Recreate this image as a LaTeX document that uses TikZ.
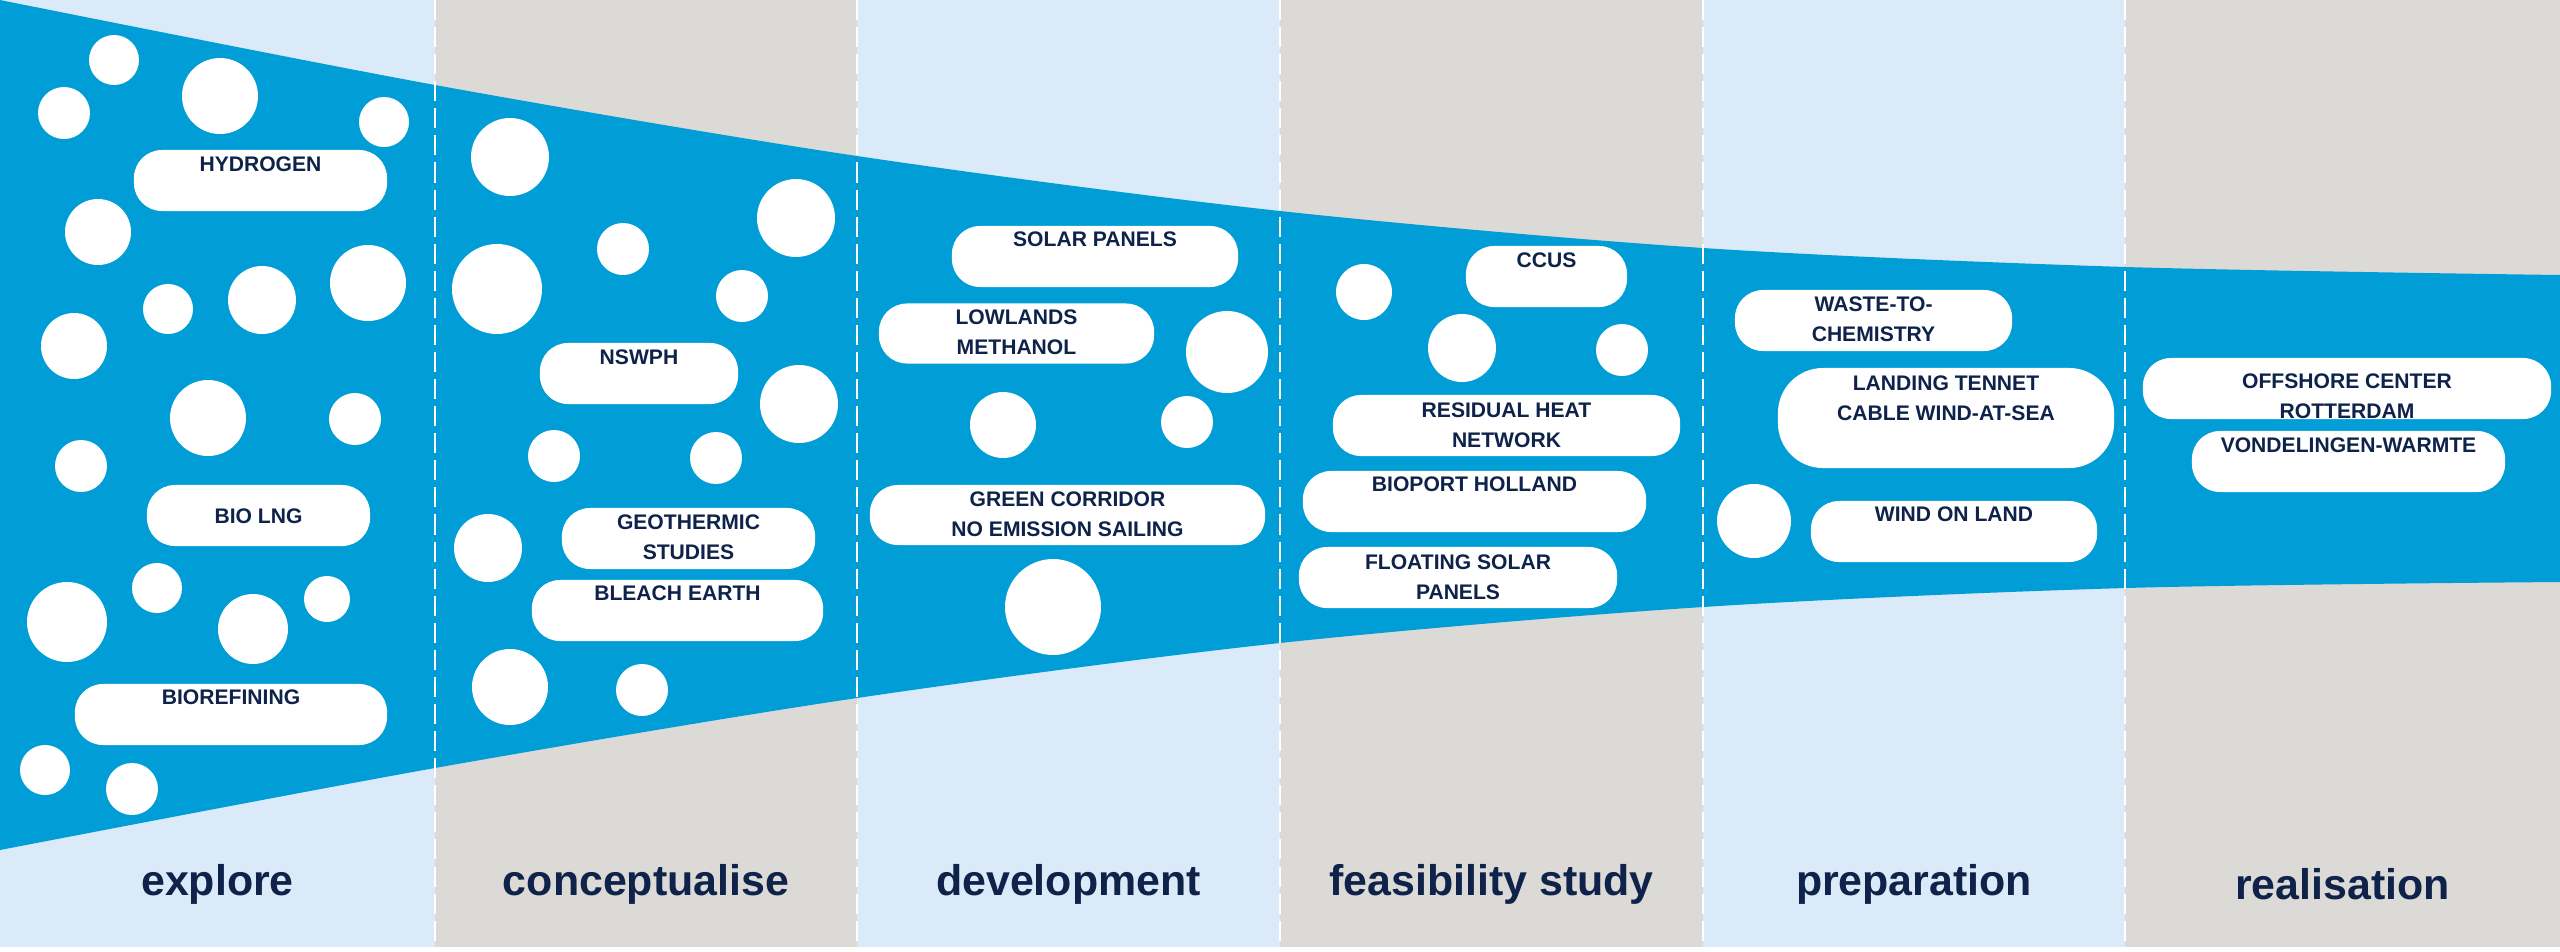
\documentclass[tikz,border=0pt]{standalone}
\usepackage{fontspec}
\setmainfont{Liberation Sans}
\usetikzlibrary{positioning}

\definecolor{portblue}{RGB}{0,157,214}
\definecolor{paleblue}{RGB}{218,234,248}
\definecolor{stone}{RGB}{220,218,214}
\definecolor{navy}{RGB}{14,34,74}

\tikzset{
  pill/.style={fill=white, rounded corners=0.28cm, inner sep=0pt},
  tag/.style={font=\bfseries\fontsize{6}{8.5}\selectfont, text=navy, align=center, inner sep=0pt},
  phase/.style={font=\bfseries\fontsize{12.2}{14}\selectfont, text=navy, anchor=base, inner sep=0pt},
  divider/.style={white, line width=0.7pt, dash pattern=on 5.7pt off 2pt},
}

\begin{document}
\begin{tikzpicture}[x=0.01cm, y=-0.01cm]
    \useasboundingbox (0,0) rectangle (2560,951);
    % columns
    \foreach \a/\b/\c in {0/435/paleblue, 435/857/stone, 857/1280/paleblue, 1280/1703/stone, 1703/2125/paleblue, 2125/2560/stone}
        \fill[\c] (\a,0) rectangle (\b,947);
    % funnel
    \fill[portblue] plot[smooth] coordinates {(0,0) (435,85) (857,156) (1280,211) (1703,248) (2126,267) (2560,275)}
        -- plot[smooth] coordinates {(2560,582) (2126,588) (1703,607) (1280,643) (857,698) (435,768) (0,850)} -- cycle;
    \foreach \x in {435,857,1280,1703,2125}
        \draw[divider] (\x,0) -- (\x,947);
    % bubbles
    \foreach \x/\y/\r in {114/60/25, 64/113/26, 220/96/38, 384/122/25, 98/232/33, 168/309/25, 262/300/34, 368/283/38,
        74/346/33, 208/418/38, 355/419/26, 81/466/26, 157/588/25, 67/622/40, 253/629/35, 327/599/23, 45/770/25, 132/789/26,
        510/157/39, 796/218/39, 623/249/26, 497/289/45, 742/296/26, 799/404/39, 554/456/26, 716/458/26, 488/548/34,
        510/687/38, 642/690/26, 1227/352/41, 1003/425/33, 1187/422/26, 1053/607/48, 1364/292/28, 1462/348/34,
        1622/350/26, 1754/521/37}
        \fill[white] (\x,\y) circle[radius=0.01cm*\r];
    % projects
    \node[pill, minimum width=2.53cm, minimum height=0.61cm] (hydrogen) at (260.5,180.5) {};
    \node[tag, below=0.07cm of hydrogen.north] (hydrogen-t) {HYDROGEN};
    \node[pill, minimum width=2.23cm, minimum height=0.61cm] (biolng) at (258.5,515.5) {};
    \node[tag, below=0.24cm of biolng.north] (biolng-t) {BIO LNG};
    \node[pill, minimum width=3.12cm, minimum height=0.61cm] (biorefining) at (231,714.5) {};
    \node[tag, below=0.06cm of biorefining.north] (biorefining-t) {BIOREFINING};
    \node[pill, minimum width=1.98cm, minimum height=0.61cm] (nswph) at (639,373.5) {};
    \node[tag, below=0.07cm of nswph.north] (nswph-t) {NSWPH};
    \node[pill, minimum width=2.53cm, minimum height=0.61cm] (geothermic) at (688.5,538.5) {};
    \node[tag, below=0.07cm of geothermic.north] (geothermic-t) {GEOTHERMIC\\STUDIES};
    \node[pill, minimum width=2.91cm, minimum height=0.61cm] (bleach) at (677.5,610.5) {};
    \node[tag, below=0.06cm of bleach.north] (bleach-t) {BLEACH EARTH};
    \node[pill, minimum width=2.86cm, minimum height=0.61cm] (solar) at (1095,256.5) {};
    \node[tag, below=0.06cm of solar.north] (solar-t) {SOLAR PANELS};
    \node[pill, minimum width=2.75cm, minimum height=0.60cm] (lowlands) at (1016.5,333.5) {};
    \node[tag, below=0.06cm of lowlands.north] (lowlands-t) {LOWLANDS\\METHANOL};
    \node[pill, minimum width=3.95cm, minimum height=0.60cm] (corridor) at (1067.5,515) {};
    \node[tag, below=0.07cm of corridor.north] (corridor-t) {GREEN CORRIDOR\\NO EMISSION SAILING};
    \node[pill, minimum width=1.61cm, minimum height=0.61cm] (ccus) at (1546.5,276.5) {};
    \node[tag, below=0.07cm of ccus.north] (ccus-t) {CCUS};
    \node[pill, minimum width=3.47cm, minimum height=0.61cm] (residual) at (1506.5,425.5) {};
    \node[tag, below=0.08cm of residual.north] (residual-t) {RESIDUAL HEAT\\NETWORK};
    \node[pill, minimum width=3.43cm, minimum height=0.61cm] (bioport) at (1474.5,501.5) {};
    \node[tag, below=0.06cm of bioport.north] (bioport-t) {BIOPORT HOLLAND};
    \node[pill, minimum width=3.18cm, minimum height=0.61cm] (floating) at (1458,577.5) {};
    \node[tag, below=0.08cm of floating.north] (floating-t) {FLOATING SOLAR\\PANELS};
    \node[pill, minimum width=2.77cm, minimum height=0.61cm] (waste) at (1873.5,320.5) {};
    \node[tag, below=0.07cm of waste.north] (waste-t) {WASTE-TO-\\CHEMISTRY};
    \node[pill, rounded corners=0.45cm, minimum width=3.36cm, minimum height=1.00cm] (tennet) at (1946,418) {};
    \node[tag, below=0.08cm of tennet.north] (tennet-t) {LANDING TENNET\\CABLE WIND-AT-SEA};
    \node[pill, minimum width=2.86cm, minimum height=0.61cm] (windland) at (1954,531.5) {};
    \node[tag, below=0.06cm of windland.north] (windland-t) {WIND ON LAND};
    \node[pill, minimum width=4.08cm, minimum height=0.61cm] (offshore) at (2347,388.5) {};
    \node[tag, below=0.16cm of offshore.north] (offshore-t) {OFFSHORE CENTER\\ROTTERDAM};
    \node[pill, minimum width=3.13cm, minimum height=0.61cm] (vondelingen) at (2348.5,461.5) {};
    \node[tag, below=0.07cm of vondelingen.north] (vondelingen-t) {VONDELINGEN-WARMTE};
    % phases
    \node[phase] (explore) at (217.5,895) {explore};
    \node[phase] (conceptualise) at (646,895) {conceptualise};
    \node[phase] (development) at (1068.5,895) {development};
    \node[phase] (feasibility) at (1491.5,895) {feasibility study};
    \node[phase] (preparation) at (1914,895) {preparation};
    \node[phase] (realisation) at (2342.5,899) {realisation};
\end{tikzpicture}
\end{document}
